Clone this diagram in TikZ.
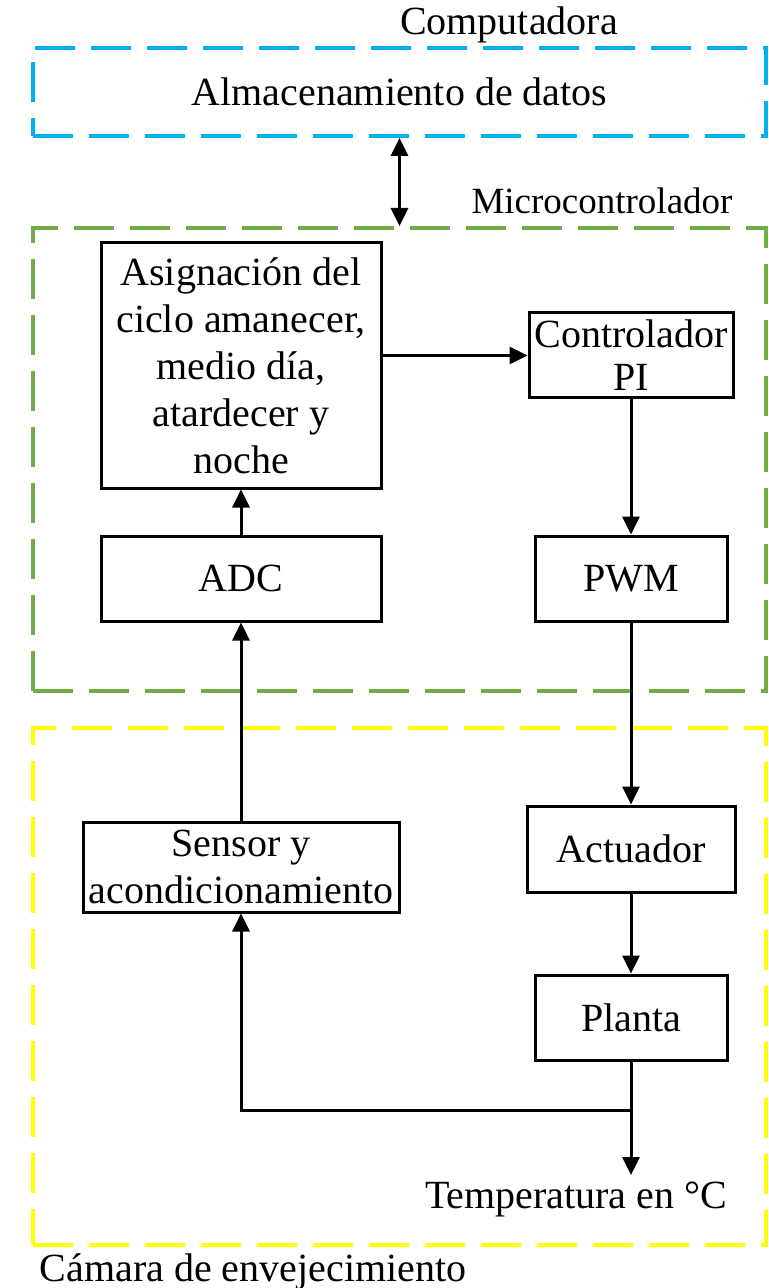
\documentclass[tikz,border=0pt]{standalone}
\usepackage{fontspec}
\setmainfont{Liberation Serif}
\usetikzlibrary{arrows.meta,positioning}

\definecolor{compblue}{RGB}{0,176,240}
\definecolor{microgreen}{RGB}{112,173,71}
\definecolor{camyellow}{RGB}{255,255,0}

\begin{document}
\begin{tikzpicture}[x=0.5pt, y=-0.5pt,
  every node/.style={font=\fontsize{20}{23.5}\selectfont},
  block/.style={draw, line width=1.5pt, align=center, inner sep=1pt},
  group/.style={draw=#1, line width=2pt, dash pattern=on 20pt off 8pt,
    inner sep=0pt, minimum width=366.5pt},
  flow/.style={line width=1.5pt, -{Triangle[length=9pt, width=8.5pt]}},
  link/.style={line width=1.5pt,
    {Triangle[length=9pt, width=8.5pt]}-{Triangle[length=9pt, width=8.5pt]}}]
\useasboundingbox (0,0) rectangle (768,1288);

% Computadora
\node[group=compblue, minimum height=44pt] (comp) at (399.5,92) {Almacenamiento de datos};
\node (complabel) at (509,25) {Computadora};

% Microcontrolador
\node[group=microgreen, minimum height=231.5pt] (micro) at (399.5,459.5) {};
\node[font=\fontsize{18.5}{22}\selectfont] (microlabel) at (602,201) {Microcontrolador};
\draw[link] (comp.south) -- (comp.south |- micro.north);

\node[block, minimum width=140pt, minimum height=122.5pt] (asig) at (241,365.5)
  {Asignación del\\ciclo amanecer,\\medio día,\\atardecer y\\noche};
\node[block, minimum width=102pt, minimum height=42.5pt, font=\fontsize{20}{21.5}\selectfont] (ctrl) at (631,355.5)
  {Controlador\\PI};
\node[block, minimum width=140pt, minimum height=42.5pt] (adc) at (241,578.5) {ADC};
\node[block, minimum width=96pt, minimum height=42.5pt] (pwm) at (631,578.5) {PWM};

% Cámara de envejecimiento
\node[group=camyellow, minimum height=258.5pt] (camara) at (399.5,986.5) {};
\node (camlabel) at (253,1272) {Cámara de envejecimiento};

\node[block, minimum width=158pt, minimum height=45pt] (sensor) at (241,867)
  {Sensor y\\acondicionamiento};
\node[block, minimum width=104pt, minimum height=43pt] (act) at (631,849) {Actuador};
\node[block, minimum width=96pt, minimum height=42.5pt] (planta) at (631,1017.5) {Planta};
\coordinate (salida) at (631,1175);
\coordinate (rama) at (631,1110);
\node (temp) at (576,1199) {Temperatura en °C};

% lazo de control
\draw[flow] (asig.east |- ctrl.west) -- (ctrl.west);
\draw[flow] (ctrl.south) -- (pwm.north);
\draw[flow] (pwm.south) -- (act.north);
\draw[flow] (act.south) -- (planta.north);
\draw[flow] (planta.south) -- (salida);
\draw[flow] (rama) -| (sensor.south);
\draw[flow] (sensor.north) -- (adc.south);
\draw[flow] (adc.north) -- (asig.south);
\end{tikzpicture}
\end{document}
